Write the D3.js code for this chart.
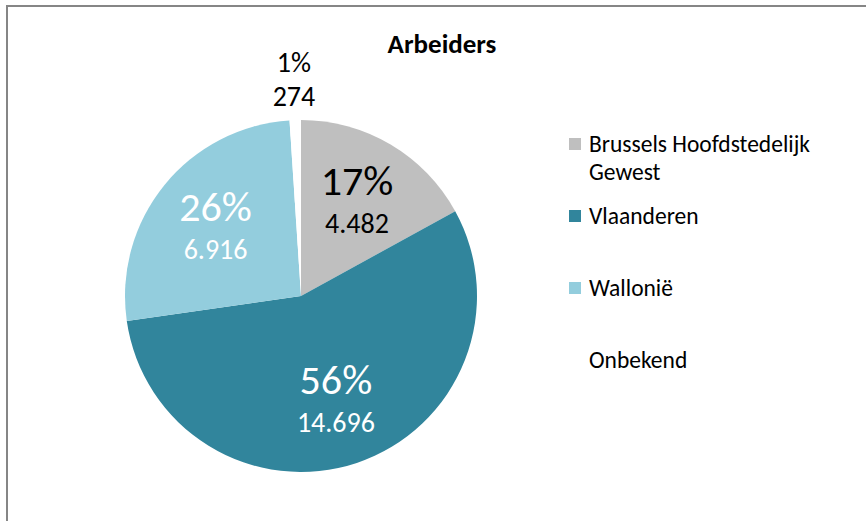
<!DOCTYPE html>
<meta charset="utf-8">
<style>
  body { margin: 0; background: #fff; }
  svg text { font-family: Calibri, Carlito, Lato, sans-serif; }
</style>
<script src="https://d3js.org/d3.v7.min.js"></script>
<div id="chart"></div>
<script>
// data
var regions = ["Brussels Hoofdstedelijk Gewest", "Vlaanderen", "Wallonië", "Onbekend"];
var workers = [4482, 14696, 6916, 274];
var colors = ["#BFBFBF", "#31859C", "#93CDDD", "#FFFFFF"];
var labelColors = ["#000000", "#FFFFFF", "#FFFFFF", "#000000"];
var legendLines = [["Brussels Hoofdstedelijk", "Gewest"], ["Vlaanderen"], ["Wallonië"], ["Onbekend"]];
var title = "Arbeiders";

var width = 866, height = 521;
var cx = 301, cy = 296, radius = 176;

var svg = d3.select("#chart").append("svg")
  .attr("width", width)
  .attr("height", height);

// chart area border (only top and left show)
svg.append("rect")
  .attr("x", 7).attr("y", 6)
  .attr("width", 880).attr("height", 540)
  .style("fill", "none")
  .style("stroke", "#868686")
  .style("stroke-width", 2);

svg.append("text")
  .attr("x", 442).attr("y", 53)
  .attr("text-anchor", "middle")
  .style("font-weight", "bold")
  .style("font-size", "27px")
  .text(title);

var data = regions.map(function(r, i) { return {name: r, value: workers[i], i: i}; });
var total = d3.sum(workers);

var pie = d3.pie().sort(null).value(function(d) { return d.value; });
var arcs = pie(data);

var arc = d3.arc().innerRadius(0).outerRadius(radius);
var labelArc = d3.arc().innerRadius(110).outerRadius(110);
var outArc = d3.arc().innerRadius(217).outerRadius(217);

var g = svg.append("g").attr("transform", "translate(" + cx + "," + cy + ")");

g.selectAll("path")
  .data(arcs)
  .enter().append("path")
  .attr("d", arc)
  .style("fill", function(d) { return colors[d.data.i]; });

var nl = d3.formatLocale({decimal: ",", thousands: ".", grouping: [3], currency: ["€", ""]});
var fmt = nl.format(",d");
var pct = d3.format(".0%");

// labels: big ones inside, the tiny slice outside
arcs.forEach(function(d) {
  var small = (d.endAngle - d.startAngle) < 0.2;
  var c = small ? outArc.centroid(d) : labelArc.centroid(d);
  var lab = g.append("text")
    .attr("text-anchor", "middle")
    .style("fill", labelColors[d.data.i]);
  lab.append("tspan")
    .attr("x", c[0]).attr("y", c[1] - (small ? 7 : 6))
    .style("font-size", small ? "28px" : "42px")
    .text(pct(d.data.value / total));
  lab.append("tspan")
    .attr("x", c[0]).attr("y", c[1] + (small ? 27 : 32))
    .style("font-size", "28px")
    .text(fmt(d.data.value));
});

// legend
var ly = d3.scaleLinear().domain([0, regions.length - 1]).range([152, 368]);
var legend = svg.selectAll(".legend")
  .data(data)
  .enter().append("g")
  .attr("transform", function(d) { return "translate(569," + ly(d.i) + ")"; });

legend.append("rect")
  .attr("x", 0).attr("y", -14)
  .attr("width", 12).attr("height", 12)
  .style("fill", function(d) { return colors[d.i]; });

legend.append("text")
  .style("font-size", "23.5px")
  .style("fill", "#000")
  .selectAll("tspan")
  .data(function(d) { return legendLines[d.i]; })
  .enter().append("tspan")
  .attr("x", 20)
  .attr("y", function(d, j) { return j * 28; })
  .text(function(d) { return d; });
</script>
